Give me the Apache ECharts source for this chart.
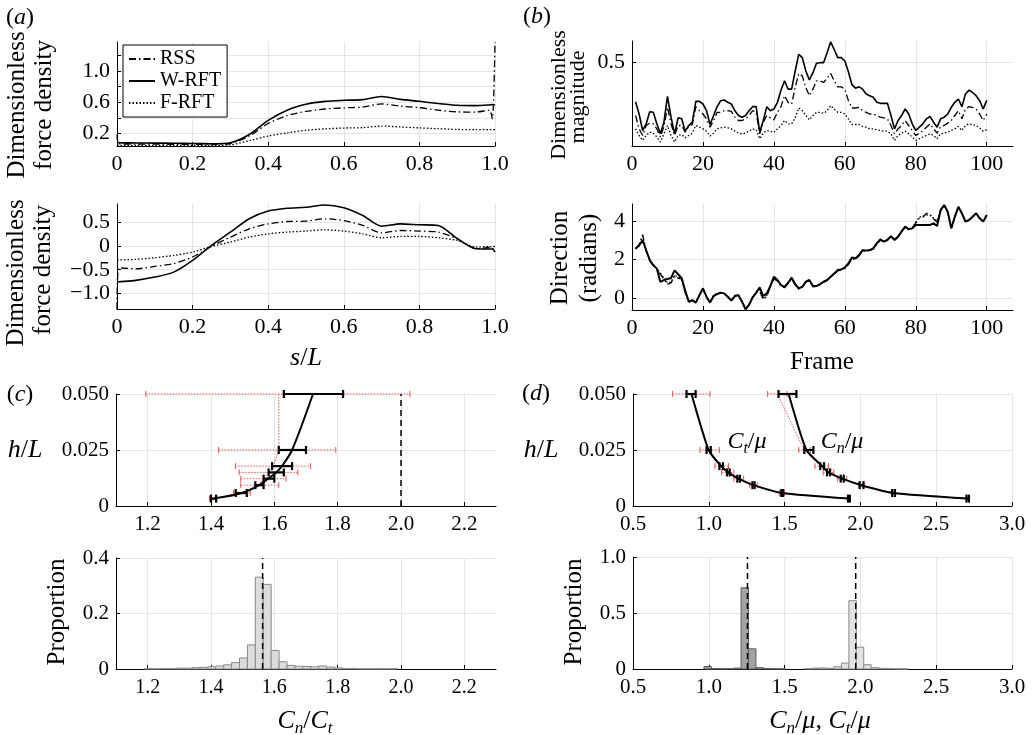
<!DOCTYPE html>
<html><head><meta charset="utf-8">
<script src="https://cdn.jsdelivr.net/npm/echarts@6/dist/echarts.min.js"></script>
<style>html,body{margin:0;padding:0;background:#fff}#c{width:1034px;height:735px}</style>
</head><body><div id="c"></div>
<script>
// ---------- (a) force density along the body ----------
const sA = [0,0.005,0.05,0.1,0.15,0.2,0.25,0.3,0.35,0.4,0.45,0.5,0.55,0.6,0.65,0.7,0.75,0.8,0.85,0.9,0.95,0.985,0.993,1.0];
const aTopRSS = [0.19,0.07,0.068,0.066,0.065,0.063,0.062,0.075,0.17,0.33,0.43,0.485,0.515,0.53,0.54,0.58,0.552,0.532,0.50,0.478,0.476,0.50,0.39,1.37];
const aTopW   = [0.094,0.085,0.082,0.08,0.078,0.075,0.072,0.085,0.19,0.37,0.50,0.575,0.612,0.626,0.635,0.675,0.638,0.613,0.585,0.562,0.558,0.567,0.572,0.565];
const aTopF   = [0.05,0.05,0.05,0.05,0.05,0.05,0.05,0.058,0.11,0.17,0.21,0.243,0.262,0.272,0.277,0.297,0.286,0.274,0.264,0.254,0.251,0.251,0.251,0.251];
const aBotRSS = [-1.33,-0.46,-0.48,-0.43,-0.37,-0.23,-0.007,0.19,0.366,0.47,0.52,0.528,0.577,0.54,0.437,0.28,0.33,0.317,0.296,0.155,-0.056,-0.03,-0.04,-0.12];
const aBotW   = [-0.76,-0.755,-0.725,-0.655,-0.55,-0.30,0.014,0.296,0.577,0.74,0.80,0.82,0.87,0.81,0.648,0.42,0.47,0.45,0.437,0.16,-0.056,-0.06,-0.06,-0.127];
const aBotF   = [-0.29,-0.29,-0.28,-0.246,-0.197,-0.127,-0.007,0.085,0.19,0.26,0.296,0.317,0.345,0.317,0.26,0.176,0.204,0.204,0.176,0.12,-0.02,-0.01,-0.01,-0.007];

// ---------- (b) magnitude and direction per frame ----------
const frames = Array.from({length:100},(_,i)=>i+1);
const magW = [0.266,0.192,0.093,0.133,0.206,0.202,0.133,0.073,0.143,0.298,
0.173,0.073,0.169,0.163,0.089,0.123,0.143,0.268,0.268,0.252,
0.212,0.129,0.183,0.236,0.272,0.276,0.262,0.252,0.212,0.183,
0.173,0.183,0.212,0.236,0.236,0.083,0.153,0.236,0.212,0.222,
0.262,0.335,0.391,0.341,0.341,0.450,0.550,0.530,0.450,0.397,
0.440,0.496,0.500,0.500,0.560,0.625,0.579,0.530,0.530,0.510,
0.445,0.368,0.347,0.355,0.341,0.312,0.302,0.292,0.262,0.256,
0.256,0.256,0.183,0.103,0.153,0.183,0.222,0.192,0.133,0.093,
0.113,0.133,0.163,0.177,0.143,0.113,0.163,0.173,0.192,0.232,
0.262,0.282,0.236,0.312,0.335,0.321,0.302,0.272,0.222,0.274];
const magR = [0.183,0.103,0.063,0.123,0.137,0.133,0.103,0.054,0.117,0.232,
0.133,0.063,0.123,0.123,0.083,0.117,0.129,0.236,0.212,0.192,
0.163,0.113,0.153,0.202,0.202,0.212,0.212,0.208,0.173,0.153,
0.153,0.163,0.183,0.212,0.202,0.073,0.143,0.183,0.169,0.157,
0.202,0.236,0.302,0.262,0.252,0.351,0.435,0.421,0.351,0.302,
0.341,0.391,0.391,0.381,0.407,0.435,0.391,0.355,0.355,0.341,
0.272,0.228,0.228,0.232,0.212,0.202,0.192,0.192,0.183,0.173,
0.169,0.163,0.123,0.073,0.103,0.123,0.153,0.123,0.093,0.063,
0.077,0.093,0.113,0.133,0.103,0.077,0.117,0.123,0.137,0.153,
0.183,0.212,0.163,0.222,0.236,0.232,0.222,0.192,0.153,0.192];
const magF = [0.103,0.063,0.034,0.063,0.083,0.077,0.054,0.024,0.073,0.123,
0.063,0.024,0.063,0.069,0.050,0.063,0.077,0.123,0.113,0.103,
0.089,0.060,0.077,0.103,0.109,0.113,0.109,0.103,0.089,0.077,
0.073,0.077,0.089,0.103,0.097,0.044,0.077,0.093,0.089,0.081,
0.103,0.123,0.153,0.133,0.133,0.169,0.228,0.212,0.183,0.157,
0.183,0.202,0.202,0.196,0.212,0.242,0.222,0.202,0.202,0.192,
0.163,0.129,0.129,0.129,0.117,0.113,0.103,0.103,0.097,0.093,
0.089,0.089,0.073,0.034,0.063,0.077,0.089,0.073,0.054,0.034,
0.044,0.054,0.063,0.073,0.063,0.044,0.073,0.077,0.083,0.093,
0.103,0.117,0.093,0.123,0.133,0.129,0.123,0.109,0.089,0.097];
const dirW = [2.57,2.74,3.00,2.49,1.97,1.72,1.54,0.85,0.95,1.00,
1.05,1.45,1.25,1.05,0.40,-0.17,-0.09,-0.22,0.17,0.52,
0.09,-0.22,0.12,0.22,0.29,0.26,0.09,-0.12,0.12,0.17,
-0.17,-0.57,-0.34,0.05,0.29,0.57,0.12,0.26,0.64,1.12,
0.95,0.69,0.60,0.81,1.07,0.74,0.52,0.60,0.86,0.95,
0.64,0.64,0.74,0.86,0.95,1.12,1.29,1.47,1.50,1.60,
1.81,2.12,2.07,2.24,2.50,2.47,2.50,2.59,2.84,3.05,
2.93,3.02,3.22,3.02,3.19,3.45,3.71,3.57,3.62,3.79,
3.79,3.79,3.80,3.80,3.88,3.74,4.57,4.83,4.48,3.62,
4.22,4.74,4.40,3.97,4.05,4.22,4.40,4.14,3.97,4.31];
const dirR = [2.60,2.78,3.30,2.45,1.95,1.70,1.50,1.25,1.00,0.72,
0.80,1.15,1.05,1.00,0.30,-0.20,-0.12,-0.20,0.15,0.50,
0.07,-0.20,0.15,0.25,0.30,0.24,0.06,-0.10,0.15,0.15,
-0.15,-0.55,-0.32,0.05,0.30,0.35,-0.05,0.10,0.60,1.00,
0.90,0.65,0.55,0.78,1.00,0.70,0.48,0.58,0.84,0.90,
0.60,0.62,0.72,0.84,0.92,1.10,1.26,1.42,1.47,1.55,
1.75,2.05,2.00,2.20,2.45,2.45,2.48,2.55,2.80,3.00,
2.95,3.05,3.18,3.05,3.22,3.50,3.68,3.60,3.65,3.90,
4.15,4.20,4.40,4.35,4.10,3.95,4.55,4.80,4.45,3.65,
4.20,4.70,4.38,3.98,4.05,4.20,4.38,4.15,3.98,4.28];
const dirF = [2.55,2.72,3.20,2.50,2.00,1.75,1.55,1.30,1.05,0.80,
0.85,1.20,1.10,1.02,0.32,-0.18,-0.10,-0.18,0.16,0.48,
0.08,-0.18,0.14,0.24,0.30,0.25,0.08,-0.08,0.14,0.16,
-0.14,-0.52,-0.30,0.06,0.32,0.45,0.00,0.15,0.62,1.05,
0.92,0.67,0.58,0.80,1.02,0.72,0.50,0.60,0.85,0.92,
0.62,0.63,0.73,0.85,0.94,1.10,1.27,1.44,1.48,1.56,
1.78,2.08,2.03,2.22,2.47,2.46,2.49,2.57,2.82,3.02,
2.94,3.04,3.20,3.04,3.20,3.47,3.70,3.58,3.63,3.95,
4.20,4.25,4.30,4.30,4.15,4.00,4.56,4.82,4.47,3.64,
4.21,4.72,4.39,3.98,4.05,4.21,4.39,4.15,3.98,4.30];

// ---------- (c) Cn/Ct vs h/L ----------
const hVals = [0.05,0.025,0.0178,0.015,0.0122,0.0093,0.0058,0.0033];
const ratioMean = [1.722,1.656,1.624,1.606,1.580,1.552,1.498,1.408];
const ratioLo   = [1.630,1.614,1.593,1.582,1.566,1.540,1.478,1.400];
const ratioHi   = [1.817,1.700,1.656,1.630,1.600,1.566,1.513,1.416];
const ratioRedMean = [1.614,1.614,1.598,1.582,1.566,1.550,1.498,1.408];
const ratioRedLo   = [1.194,1.424,1.477,1.489,1.494,1.494,1.471,1.395];
const ratioRedHi   = [2.028,1.794,1.714,1.674,1.637,1.614,1.524,1.418];
const ratioRef = 2.0;
const histCLeft = [1.19,1.215,1.24,1.265,1.29,1.315,1.34,1.365,1.39,1.415,1.44,1.465,1.49,1.515,1.54,1.565,1.59,1.615,1.64,1.665,1.69,1.715,1.74,1.765,1.79,1.815,1.84,1.865,1.89,1.915,1.94,1.965];
const histCVal  = [0.001,0.001,0.002,0.002,0.003,0.003,0.005,0.006,0.008,0.011,0.015,0.023,0.040,0.087,0.331,0.305,0.067,0.026,0.013,0.010,0.009,0.008,0.011,0.007,0.004,0.002,0.002,0.001,0.001,0.001,0.001,0.001];
const histCWidth = 0.025;
const histCMedian = 1.563;

// ---------- (d) Ct/mu and Cn/mu vs h/L ----------
const ctMean  = [0.886,0.999,1.081,1.129,1.196,1.295,1.483,1.924];
const ctLo    = [0.853,0.985,1.070,1.120,1.188,1.288,1.478,1.918];
const ctHi    = [0.913,1.013,1.093,1.138,1.205,1.302,1.490,1.930];
const ctRedLo = [0.761,0.942,1.040,1.085,1.165,1.270,1.465,1.915];
const ctRedHi = [1.008,1.070,1.130,1.165,1.230,1.320,1.500,1.935];
const cnMean  = [1.527,1.644,1.748,1.790,1.880,2.006,2.218,2.708];
const cnLo    = [1.460,1.630,1.735,1.780,1.870,1.995,2.210,2.700];
const cnHi    = [1.578,1.690,1.760,1.800,1.890,2.020,2.228,2.716];
const cnRedMean = [1.452,1.630,1.740,1.790,1.880,2.006,2.218,2.708];
const cnRedLo   = [1.388,1.593,1.700,1.755,1.850,1.990,2.205,2.700];
const cnRedHi   = [1.516,1.670,1.790,1.825,1.910,2.025,2.230,2.716];
const histCtLeft = [0.968,1.017,1.066,1.115,1.164,1.213,1.262,1.311,1.360,1.409,1.458];
const histCtVal  = [0.022,0.003,0.002,0.003,0.008,0.725,0.180,0.012,0.005,0.002,0.001];
const histCnLeft = [1.630,1.679,1.728,1.777,1.826,1.875,1.924,1.973,2.022,2.071,2.120,2.169,2.218,2.267];
const histCnVal  = [0.003,0.008,0.010,0.006,0.020,0.053,0.610,0.195,0.038,0.012,0.006,0.004,0.002,0.001];
const histDWidth = 0.049;
const ctMedian = 1.255, cnMedian = 1.969;

// ---------- tick values ----------
const ticksS = [0,0.2,0.4,0.6,0.8,1.0];
const ticksFrame = [0,20,40,60,80,100];
const ticksRatio = [1.2,1.4,1.6,1.8,2.0,2.2];
const ticksMu = [0.5,1.0,1.5,2.0,2.5,3.0];

const F = '"Liberation Serif","Times New Roman",serif';
const zip = (xs, ys) => xs.map((x,i)=>[x, ys[i]]);
const f1 = v => v===0 ? '0' : v.toFixed(1);
const fneg = v => v===0 ? '0' : (v<0?'\u2212':'') + Math.abs(v).toFixed(1);

function axis(o){
  return {
    type:'value', gridIndex:o.g, min:o.min, max:o.max,
    axisLine:{show:true,onZero:false,lineStyle:{color:'#000',width:1}},
    axisTick:{show:true,inside:true,length:4,lineStyle:{color:'#000',width:1},customValues:o.ticks||o.labels},
    axisLabel:{show:true,color:'#000',fontFamily:F,fontSize:o.fs||20,margin:o.margin||7,formatter:o.fmt||f1,customValues:o.labels,showMinLabel:true,showMaxLabel:true},
    splitLine:{show:true,lineStyle:{color:'#e4e4e4',width:1}},
    splitArea:{show:false}
  };
}
const xAxes = [
  axis({g:0,min:0,max:1,labels:ticksS,margin:7,fs:22}),
  axis({g:1,min:0,max:1,labels:ticksS,margin:7,fs:22}),
  axis({g:2,min:0,max:107.4,labels:ticksFrame,margin:7,fs:22,fmt:v=>String(v)}),
  axis({g:3,min:0,max:107.4,labels:ticksFrame,margin:7,fs:22,fmt:v=>String(v)}),
  axis({g:4,min:1.1,max:2.3,labels:ticksRatio,margin:8,fs:21}),
  axis({g:5,min:1.1,max:2.3,labels:ticksRatio,margin:9}),
  axis({g:6,min:0.5,max:3.0,labels:ticksMu,margin:8,fs:21}),
  axis({g:7,min:0.5,max:3.0,labels:ticksMu,margin:8,fs:21}),
];
const yAxes = [
  axis({g:0,min:0.043,max:1.37,labels:[0.2,0.6,1.0],ticks:[0.2,0.4,0.6,0.8,1.0,1.2],fs:22}),
  axis({g:1,min:-1.33,max:0.89,labels:[-1.0,-0.5,0,0.5],fmt:fneg,fs:22}),
  axis({g:2,min:0,max:0.63,labels:[0.5],fs:22}),
  axis({g:3,min:-0.6,max:4.88,labels:[0,2,4],fmt:v=>String(v),fs:22}),
  axis({g:4,min:0,max:0.05,labels:[0,0.025,0.05],fmt:v=>v===0?'0':v.toFixed(3),fs:21}),
  axis({g:5,min:0,max:0.4,labels:[0,0.2,0.4],fs:21}),
  axis({g:6,min:0,max:0.05,labels:[0,0.025,0.05],fmt:v=>v===0?'0':v.toFixed(3),fs:21}),
  axis({g:7,min:0,max:1.0,labels:[0,0.5,1.0],fs:21}),
];
const gridBox = (left,top,width,height)=>({left,top,width,height,containLabel:false,outerBoundsMode:'none',show:false});
const grids = [
  gridBox(117,42,378,104), gridBox(117,204,378,105),
  gridBox(632,41,381,105), gridBox(632,204,381,106),
  gridBox(116,394,380,112), gridBox(116,558,380,111),
  gridBox(633,394,379,112), gridBox(633,557,379,112),
];

const S_RSS = {color:'#000',width:1.3,type:[7,3,1.5,3]};
const S_W = {color:'#000',width:1.6,type:'solid'};
const S_F = {color:'#000',width:1.3,type:[1.5,2]};
function ln(name, i, data, style, smooth){
  return {type:'line',name,xAxisIndex:i,yAxisIndex:i,data,symbol:'none',showSymbol:false,
    lineStyle:style,itemStyle:{color:'#000'},smooth:smooth||false,silent:true,z:3};
}
function errRender(color,width,dash,cap){
  return function(params, api){
    const h = api.value(0), lo = api.value(1), hi = api.value(2);
    const p1 = api.coord([lo,h]), p2 = api.coord([hi,h]);
    return {type:'group',children:[
      {type:'line',shape:{x1:p1[0],y1:p1[1],x2:p2[0],y2:p2[1]},style:{stroke:color,lineWidth:width,lineDash:dash}},
      {type:'line',shape:{x1:p1[0],y1:p1[1]-cap,x2:p1[0],y2:p1[1]+cap},style:{stroke:color,lineWidth:width}},
      {type:'line',shape:{x1:p2[0],y1:p2[1]-cap,x2:p2[0],y2:p2[1]+cap},style:{stroke:color,lineWidth:width}}
    ]};
  };
}
function err(i, lo, hi, color, width, dash, cap, z){
  return {type:'custom',xAxisIndex:i,yAxisIndex:i,silent:true,z:z,
    data:hVals.map((h,k)=>[h,lo[k],hi[k]]),encode:{x:[1,2],y:0},
    renderItem:errRender(color,width,dash,cap)};
}
function hist(i, left, vals, w, fill, stroke){
  return {type:'custom',xAxisIndex:i,yAxisIndex:i,silent:true,z:2,
    data:left.map((l,k)=>[l,vals[k]]),encode:{x:0,y:1},
    renderItem:function(params, api){
      const l = api.value(0), v = api.value(1);
      const p0 = api.coord([l,0]), p1 = api.coord([l+w,v]);
      return {type:'rect',shape:{x:p0[0],y:p1[1],width:p1[0]-p0[0],height:p0[1]-p1[1]},
        style:{fill:fill,stroke:stroke,lineWidth:1}};
    }};
}
const vline = (i, x, y0, y1) => ({type:'line',xAxisIndex:i,yAxisIndex:i,data:[[x,y0],[x,y1]],symbol:'none',
  lineStyle:{color:'#000',width:1.5,type:[6,4]},silent:true,z:6});
const RED = '#e25a5a';

const series = [
  ln('RSS',0,zip(sA,aTopRSS),S_RSS,0.25),
  ln('W-RFT',0,zip(sA,aTopW),S_W,0.25),
  ln('F-RFT',0,zip(sA,aTopF),S_F,0.25),
  ln('RSS',1,zip(sA,aBotRSS),S_RSS,0.25),
  ln('W-RFT',1,zip(sA,aBotW),S_W,0.25),
  ln('F-RFT',1,zip(sA,aBotF),S_F,0.25),
  ln('RSS',2,zip(frames,magR),S_RSS),
  ln('W-RFT',2,zip(frames,magW),S_W),
  ln('F-RFT',2,zip(frames,magF),S_F),
  ln('RSS',3,zip(frames,dirR),S_RSS),
  ln('F-RFT',3,zip(frames,dirF),S_F),
  ln('W-RFT',3,zip(frames,dirW),{color:'#000',width:2,type:'solid'}),
  // (c)
  ln('redC',4,zip(ratioRedMean,hVals),{color:RED,width:1,type:[1.5,1.5]}),
  err(4,ratioRedLo,ratioRedHi,RED,1,[1.5,1.5],3,3),
  ln('blackC',4,zip(ratioMean,hVals),{color:'#000',width:2,type:'solid'},0.3),
  err(4,ratioLo,ratioHi,'#000',2.2,null,4,5),
  vline(4,ratioRef,0,0.05),
  hist(5,histCLeft,histCVal,histCWidth,'#dcdcdc','#8a8a8a'),
  vline(5,histCMedian,0,0.4),
  // (d)
  ln('redCt',6,zip(ctMean,hVals),{color:RED,width:1,type:[1.5,1.5]}),
  ln('redCn',6,zip(cnRedMean,hVals),{color:RED,width:1,type:[1.5,1.5]}),
  err(6,ctRedLo,ctRedHi,RED,1,[1.5,1.5],3,3),
  err(6,cnRedLo,cnRedHi,RED,1,[1.5,1.5],3,3),
  ln('blackCt',6,zip(ctMean,hVals),{color:'#000',width:2,type:'solid'},0.2),
  ln('blackCn',6,zip(cnMean,hVals),{color:'#000',width:2,type:'solid'},0.2),
  err(6,ctLo,ctHi,'#000',2.2,null,4,5),
  err(6,cnLo,cnHi,'#000',2.2,null,4,5),
  hist(7,histCtLeft,histCtVal,histDWidth,'#a3a3a3','#5a5a5a'),
  hist(7,histCnLeft,histCnVal,histDWidth,'#e2e2e2','#8a8a8a'),
  vline(7,ctMedian,0,1.0),
  vline(7,cnMedian,0,1.0),
];

function T(x,y,text,fs,rot,rich){
  return {type:'text',x:x,y:y,rotation:rot||0,silent:true,z:20,
    style:{text:text,fontFamily:F,fontSize:fs,fill:'#000',align:'center',verticalAlign:'middle',rich:rich}};
}
const R = Math.PI/2;
const richSub = (fs)=>({i:{fontStyle:'italic',fontFamily:F,fontSize:fs,lineHeight:fs+6,verticalAlign:'middle'},
  sub:{fontStyle:'italic',fontFamily:F,fontSize:Math.round(fs*0.65),lineHeight:Math.round(fs*0.65),verticalAlign:'bottom'},
  n:{fontFamily:F,fontSize:fs,lineHeight:fs+6,verticalAlign:'middle'}});
const itRich = {i:{fontStyle:'italic',fontFamily:F,fontSize:24}};
const graphics = [
  T(20,18,'({i|a})',24,0,itRich),
  T(537,17,'({i|b})',24,0,itRich),
  T(20,395,'({i|c})',24,0,itRich),
  T(536,394,'({i|d})',24,0,itRich),
  T(17,105,'Dimensionless',25,R), T(44,105,'force density',25,R),
  T(16,273,'Dimensionless',25,R), T(43,270,'force density',25,R),
  T(559,95,'Dimensionless',22,R), T(578,97,'magnitude',22,R),
  T(560,258,'Direction',25,R), T(589,258,'(radians)',25,R),
  T(57,612,'Proportion',25,R), T(574,612,'Proportion',25,R),
  T(306,358,'{i|s}{n|/}{i|L}',26,0,richSub(26)),
  T(822,362,'Frame',25),
  T(25,450,'{i|h}{n|/}{i|L}',26,0,richSub(26)),
  T(541,450,'{i|h}{n|/}{i|L}',26,0,richSub(26)),
  T(747,442,'{i|C}{sub|t}{n|/}{i|μ}',24,0,richSub(24)),
  T(842,442,'{i|C}{sub|n}{n|/}{i|μ}',24,0,richSub(24)),
  T(305,721,'{i|C}{sub|n}{n|/}{i|C}{sub|t}',26,0,richSub(26)),
  T(820,721,'{i|C}{sub|n}{n|/}{i|μ}{n|, }{i|C}{sub|t}{n|/}{i|μ}',26,0,richSub(26)),
];

const chart = echarts.init(document.getElementById('c'), null, {renderer:'canvas'});
chart.setOption({
  animation:false,
  backgroundColor:'#fff',
  textStyle:{fontFamily:F},
  grid:grids, xAxis:xAxes, yAxis:yAxes, series:series,
  legend:{data:['RSS','W-RFT','F-RFT'],orient:'vertical',left:123,top:45,itemWidth:26,itemHeight:12,itemGap:2,
    padding:[4,6,4,5],borderColor:'#000',borderWidth:1,backgroundColor:'#fff',selectedMode:false,
    itemStyle:{opacity:0,borderWidth:0},
    textStyle:{fontFamily:F,fontSize:20,color:'#000'}},
  graphic:graphics
});
</script></body></html>
